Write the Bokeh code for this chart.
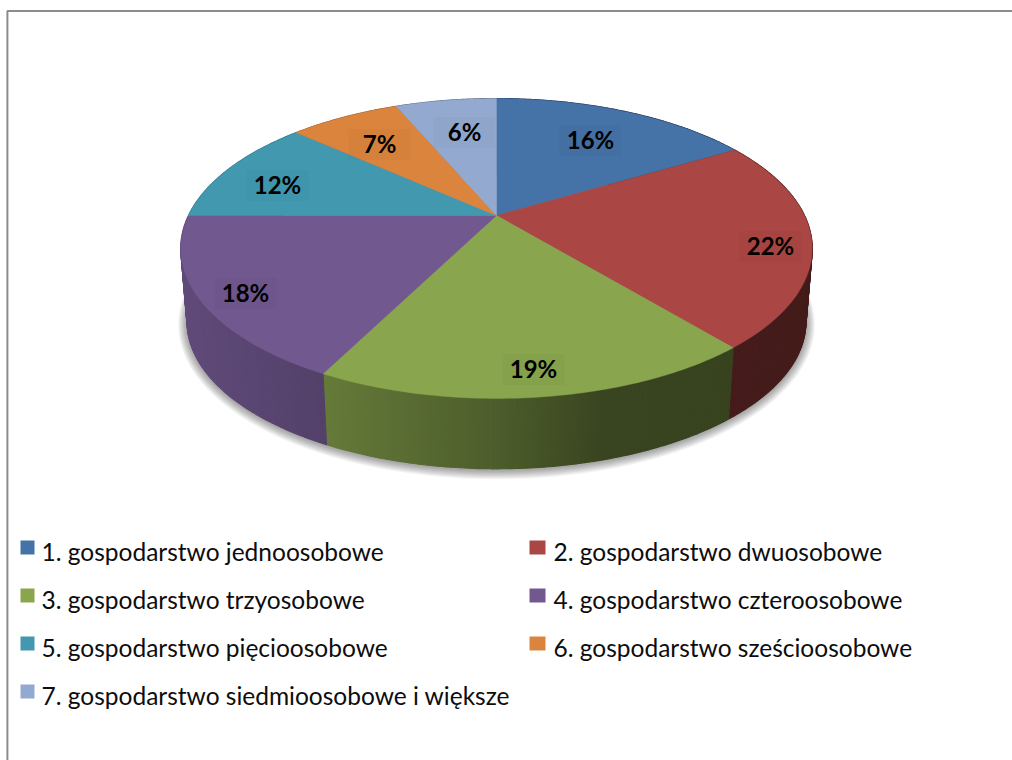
import numpy as np
from bokeh.plotting import figure
from bokeh.embed import file_html
from bokeh.resources import INLINE
from bokeh.core.properties import value

categories = [
    "1. gospodarstwo jednoosobowe",
    "2. gospodarstwo dwuosobowe",
    "3. gospodarstwo trzyosobowe",
    "4. gospodarstwo czteroosobowe",
    "5. gospodarstwo pięcioosobowe",
    "6. gospodarstwo sześcioosobowe",
    "7. gospodarstwo siedmioosobowe i większe",
]
shares = [16.49, 22.49, 18.5, 17.52, 11.6, 7.0, 6.4]
share_labels = ["16%", "22%", "19%", "18%", "12%", "7%", "6%"]
colors = ["#4572A7", "#AA4643", "#89A54E", "#71588F", "#4198AF", "#DB843D", "#93A9CF"]

label_x = [590, 770, 533, 245, 277, 379, 464]
label_y = [139, 245, 368, 292, 184, 143, 131]

W, H = 1012, 760
CX, CY = 496.0, 215.0
PA, PB, PC = 308.0, 142.7, 0.22
DROP, SHRINK = 74.0, 0.98


def top_xy(theta):
    u, v = np.sin(theta), np.cos(theta)
    d = 1 + PC * v
    return PA * u / d, -PB * v / d


def bottom_xy(theta):
    x, y = top_xy(theta)
    return CX + SHRINK * x, CY + DROP + SHRINK * y


def hex_rgb(c):
    return np.array([int(c[i:i + 2], 16) for i in (1, 3, 5)], dtype=float)


def shade(c, f):
    r = np.clip(hex_rgb(c) * f, 0, 255).astype(int)
    return "#%02x%02x%02x" % tuple(r)


p = figure(width=W, height=H, x_range=(0, W), y_range=(H, 0),
           output_backend="svg", toolbar_location=None,
           min_border=0, outline_line_color=None, background_fill_color="white",
           border_fill_color="white", margin=(0, 0, 0, 0))
p.axis.visible = False
p.grid.visible = False

# frame
p.line([6.9, 6.9, W], [H, 10.6, 10.6], line_color="#8c8c8c", line_width=2)

edges = np.concatenate([[0], np.cumsum(shares)]) / np.sum(shares) * 2 * np.pi

# soft shadow below the pie
tt = np.linspace(0, 2 * np.pi, 240)
bx, by = bottom_xy(tt)
for grow in range(9, 0, -1):
    sx = CX + (bx - CX) * (1 + grow / 310)
    sy = CY + DROP + (by - CY - DROP) * (1 + grow / 170) + 1
    p.patch(sx, sy, fill_color="#000000", fill_alpha=0.045, line_color=None)

# side wall, as narrow strips darkened from left to right
shade_x = [180, 330, 500, 600, 820]
shade_f = [0.86, 0.74, 0.56, 0.42, 0.40]
for i, c in enumerate(colors):
    a, b = edges[i], edges[i + 1]
    n = max(2, int((b - a) / 0.012))
    th = np.linspace(a, b, n + 1)
    xs, ys, fills = [], [], []
    for t0, t1 in zip(th[:-1], th[1:]):
        x0, y0 = top_xy(t0)
        x1, y1 = top_xy(t1)
        bx0, by0 = bottom_xy(t0)
        bx1, by1 = bottom_xy(t1)
        xs.append([CX + x0, CX + x1, bx1, bx0])
        ys.append([CY + y0, CY + y1, by1, by0])
        fills.append(shade(c, np.interp((bx0 + bx1) / 2, shade_x, shade_f)))
    p.patches(xs, ys, fill_color=fills, line_color=fills, line_width=1.2)

# top surface
for i, c in enumerate(colors):
    th = np.linspace(edges[i], edges[i + 1], 90)
    x, y = top_xy(th)
    p.patch(np.r_[CX, CX + x], np.r_[CY, CY + y], fill_color=c, line_color=c, line_width=0.4)

# data label boxes and texts
p.rect(x=label_x, y=[v + 1 for v in label_y], width=62, height=31,
       fill_color="#000000", fill_alpha=0.02, line_color=None)
p.text(x=label_x, y=label_y, text=share_labels, text_font=value("Lato"),
       text_font_style="bold", text_font_size="24px", text_color="#000000",
       text_align="center", text_baseline="middle")

# legend
leg_x = [20, 529, 20, 529, 20, 529, 20]
leg_y = [540, 540, 588, 588, 636, 636, 684]
p.quad(left=leg_x, right=[a + (14 if a < 100 else 16) for a in leg_x],
       top=leg_y, bottom=[b + 14 for b in leg_y], fill_color=colors, line_color=None)
p.text(x=[a + (21 if a < 100 else 24) for a in leg_x], y=[b + 11 for b in leg_y],
       text=categories, text_font=value("Lato"), text_font_size="24.5px",
       text_color="#0d0d0d", text_align="left", text_baseline="middle")

open("out.html", "w").write(file_html(p, INLINE))
